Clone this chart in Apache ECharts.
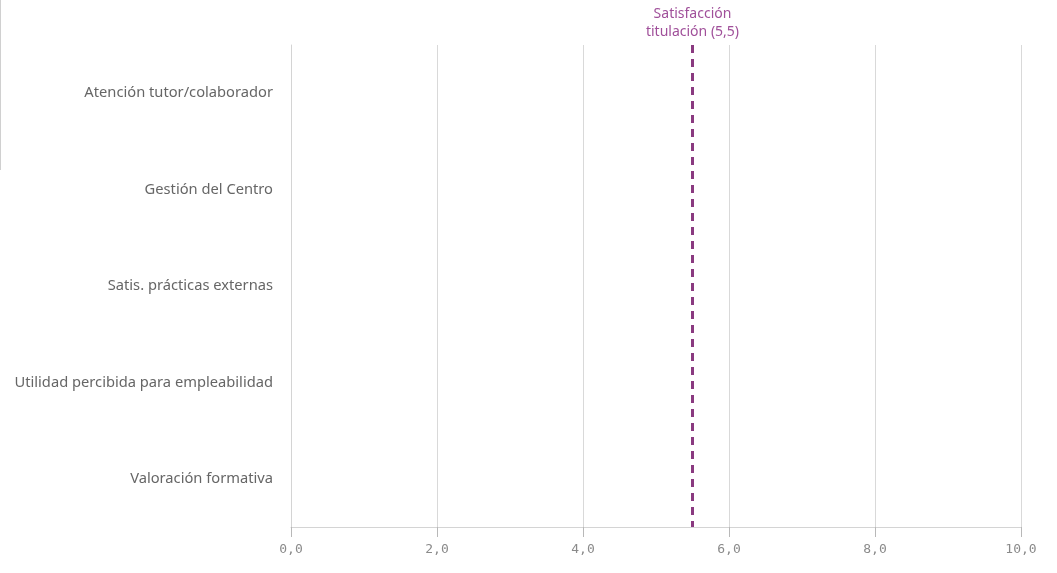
<!DOCTYPE html>
<html><head><meta charset="utf-8">
<script src="https://cdn.jsdelivr.net/npm/echarts@6/dist/echarts.min.js"></script>
<style>html,body{margin:0;padding:0;background:#fff}#c{width:1057px;height:573px}</style>
</head><body><div id="c"></div>
<script>
const categories = ['Atención tutor/colaborador','Gestión del Centro','Satis. prácticas externas','Utilidad percibida para empleabilidad','Valoración formativa'];
const values = ['-','-','-','-','-'];
const refValue = 5.5;
const refLabel = 'Satisfacción\ntitulación (5,5)';
const xTicks = [0,2,4,6,8,10];

const chart = echarts.init(document.getElementById('c'));
chart.setOption({
  animation:false,
  grid:{left:291,right:36,top:45,bottom:46},
  graphic:[{type:'line',shape:{x1:0.5,y1:0,x2:0.5,y2:170},style:{stroke:'#d0d0d0',lineWidth:1}}],
  xAxis:{type:'value',min:0,max:10,interval:2,
    axisLine:{show:true,onZero:false,lineStyle:{color:'#d4d4d4'}},
    axisTick:{show:true,length:10,lineStyle:{color:'#b8b8b8',width:1}},
    splitLine:{show:true,lineStyle:{color:'#d9d9d9'}},
    axisLabel:{margin:16,color:'#8a8a8a',fontFamily:'DejaVu Sans Mono',fontSize:13,
      formatter:function(v){return v.toFixed(1).replace('.',',');}}},
  yAxis:{type:'category',data:categories,inverse:true,
    axisLine:{show:true,lineStyle:{color:'#d4d4d4'}},
    axisTick:{show:false},
    axisLabel:{margin:18,color:'#666666',fontFamily:'Noto Sans',fontSize:14.7}},
  series:[
    {type:'bar',data:values},
    {type:'custom',silent:true,clip:false,z:10,
     data:xTicks.map(function(v){return [v,categories[categories.length-1]];}),
     renderItem:function(params,api){
       var cs=params.coordSys;
       var x=Math.round(api.coord([api.value(0),categories.length-1])[0])+0.5;
       var yb=cs.y+cs.height;
       return {type:'line',shape:{x1:x,y1:yb,x2:x,y2:yb+10},style:{stroke:'#b8b8b8',lineWidth:1}};
     }},
    {type:'scatter',symbolSize:0,silent:true,data:[[refValue,categories[0]]],
    markLine:{symbol:'none',silent:true,
      lineStyle:{type:[8,6],color:'#8a3a80',width:3},
      label:{show:true,position:'start',formatter:refLabel,color:'#a0509a',fontFamily:'Noto Sans',fontSize:14,lineHeight:18,distance:4},
      data:[{xAxis:refValue}]}}]
});
</script></body></html>
